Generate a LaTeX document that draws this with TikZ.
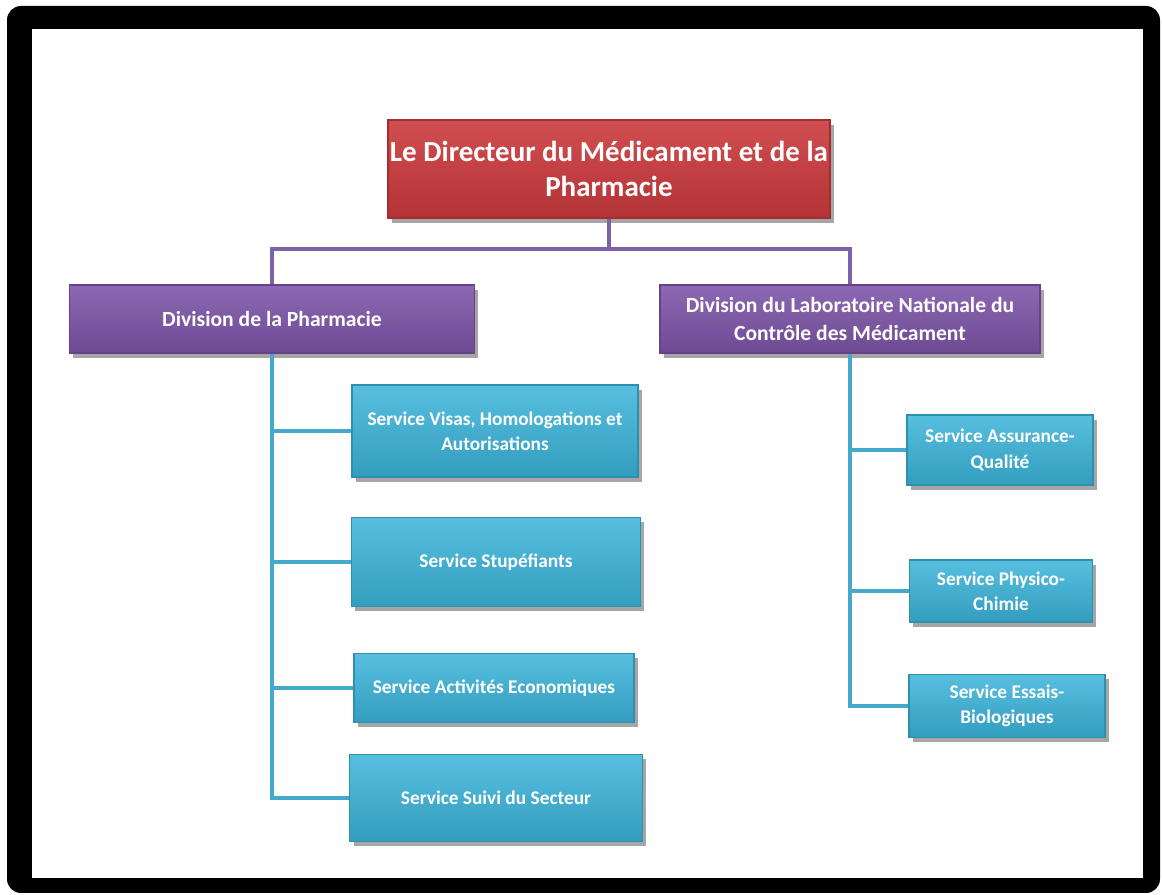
\documentclass[tikz,border=0pt]{standalone}
\usepackage{fontspec}
\setmainfont{Carlito}
\usetikzlibrary{shadows}

\definecolor{rouge}{HTML}{CC3A3D}
\definecolor{violet}{HTML}{7E54A8}
\definecolor{cyan}{HTML}{3AB3D9}
\definecolor{lienv}{HTML}{7E62A8}
\definecolor{lienc}{HTML}{45A9CC}

\tikzset{
  boite/.style={rectangle, inner sep=0pt, align=center, text=white,
    font=\bfseries, drop shadow={shadow xshift=0.04cm, shadow yshift=-0.05cm,
    opacity=0.35, fill=black}},
  chef/.style={boite, top color=rouge!90!white, bottom color=rouge!88!black,
    draw=rouge!80!black, font=\fontsize{8.25}{9.8}\bfseries},
  division/.style={boite, top color=violet!88!white, bottom color=violet!88!black,
    draw=violet!80!black, font=\fontsize{6.15}{8}\bfseries},
  service/.style={boite, top color=cyan!85!white, bottom color=cyan!88!black,
    draw=cyan!80!black, font=\fontsize{5.5}{7.2}\bfseries},
  lienv/.style={draw=lienv, line width=1.1pt},
  lienc/.style={draw=lienc, line width=1.1pt}
}

\begin{document}
\begin{tikzpicture}
  \useasboundingbox (0,0) rectangle (11.62,-8.95);
  % cadre
  \fill[black, rounded corners=0.14cm] (0.07,-0.06) rectangle (11.60,-8.93);
  \fill[white] (0.32,-0.29) rectangle (11.43,-8.78);

  \coordinate (j) at (6.09,-2.49);

  \node[chef, minimum width=4.42cm, minimum height=0.98cm] (dir) at (6.09,-1.69)
    {Le Directeur du Médicament et de la\\Pharmacie};

  \node[division, minimum width=4.05cm, minimum height=0.68cm] (divp) at (2.72,-3.19)
    {Division de la Pharmacie};
  \node[division, minimum width=3.80cm, minimum height=0.68cm] (divl) at (8.50,-3.19)
    {Division du Laboratoire Nationale du\\Contrôle des Médicament};

  \node[service, minimum width=2.86cm, minimum height=0.92cm] (visas) at (4.95,-4.31)
    {Service Visas, Homologations et\\Autorisations};
  \node[service, minimum width=2.89cm, minimum height=0.89cm] (stup) at (4.96,-5.62)
    {Service Stupéfiants};
  \node[service, minimum width=2.80cm, minimum height=0.69cm] (eco) at (4.94,-6.88)
    {Service Activités Economiques};
  \node[service, minimum width=2.93cm, minimum height=0.87cm] (suivi) at (4.96,-7.98)
    {Service Suivi du Secteur};

  \node[service, minimum width=1.86cm, minimum height=0.70cm] (qual) at (10.00,-4.50)
    {Service Assurance-\\Qualité};
  \node[service, minimum width=1.83cm, minimum height=0.62cm] (phys) at (10.01,-5.91)
    {Service Physico-\\Chimie};
  \node[service, minimum width=1.96cm, minimum height=0.63cm] (bio) at (10.07,-7.06)
    {Service Essais-\\Biologiques};

  % liaisons
  \draw[lienv] (dir.south) -- (j);
  \draw[lienv] (divp.north) |- (j) -| (divl.north);
  \foreach \s in {visas,stup,eco,suivi}
    \draw[lienc] (divp.south) |- (\s.west);
  \foreach \s in {qual,phys,bio}
    \draw[lienc] (divl.south) |- (\s.west);
\end{tikzpicture}
\end{document}
